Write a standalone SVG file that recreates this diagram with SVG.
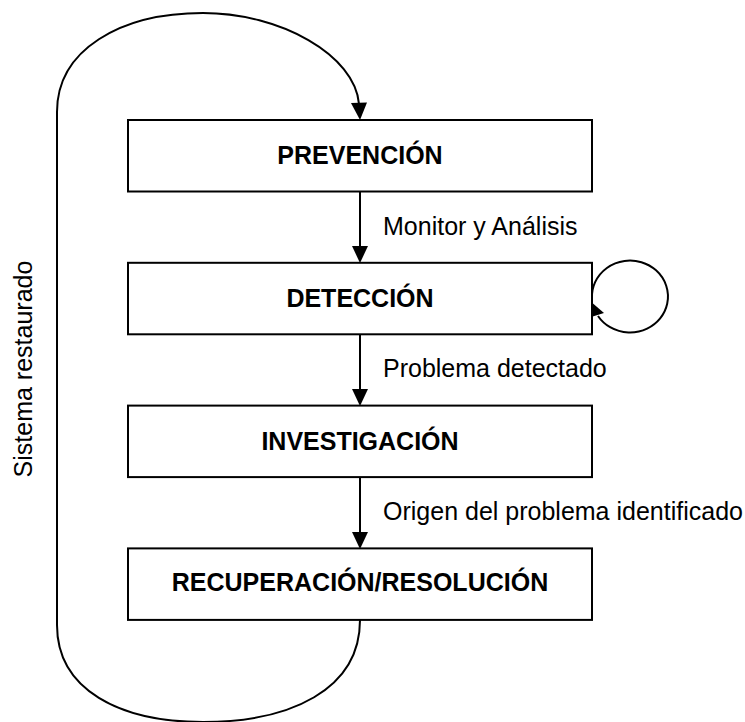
<svg xmlns="http://www.w3.org/2000/svg" width="745" height="722" viewBox="0 0 745 722">
<style>
.box{fill:#fff;stroke:#000;stroke-width:2}
.ln{fill:none;stroke:#000;stroke-width:2}
.ah{fill:#000;stroke:none}
.nt{font-family:"Liberation Sans",Arial,sans-serif;font-size:25px;font-weight:bold;text-anchor:middle;fill:#000}
.et{font-family:"Liberation Sans",Arial,sans-serif;font-size:25px;fill:#000}
</style>
<rect width="745" height="722" fill="#fff"/>
<g id="connectors">
<path class="ln" d="M360,620 C360,690 290,722 203,722 C120,722 57,690 57,625 L57,112 C57,50 120,13 203,13 C280,13 355,55 359,104"/>
<polygon class="ah" points="360,120 351,103 367,102.5"/>
<line class="ln" x1="360" y1="192" x2="360" y2="247"/>
<polygon class="ah" points="360,263 352,246 368,246"/>
<line class="ln" x1="360" y1="334" x2="360" y2="390"/>
<polygon class="ah" points="360,406 352,389 368,389"/>
<line class="ln" x1="360" y1="477" x2="360" y2="533"/>
<polygon class="ah" points="360,549 352,532 368,532"/>
<path class="ln" d="M592,298 A38,36 0 1 1 598,316"/>
<polygon class="ah" points="589.5,317.5 604,313 593,303.5"/>
<text class="et" x="383" y="235">Monitor y Análisis</text>
<text class="et" x="383" y="377">Problema detectado</text>
<text class="et" x="383" y="520">Origen del problema identificado</text>
<text class="et" text-anchor="middle" transform="translate(32,369) rotate(-90)">Sistema restaurado</text>
</g>
<g id="prevencion">
<rect class="box" x="128" y="120" width="464" height="71.5"/>
<text class="nt" x="360" y="164">PREVENCIÓN</text>
</g>
<g id="deteccion">
<rect class="box" x="128" y="262.8" width="464" height="71.5"/>
<text class="nt" x="360" y="306.8">DETECCIÓN</text>
</g>
<g id="investigacion">
<rect class="box" x="128" y="405.6" width="464" height="71.5"/>
<text class="nt" x="360" y="449.6">INVESTIGACIÓN</text>
</g>
<g id="recuperacion">
<rect class="box" x="128" y="548.4" width="464" height="71.5"/>
<text class="nt" x="360" y="591.4">RECUPERACIÓN/RESOLUCIÓN</text>
</g>
</svg>
